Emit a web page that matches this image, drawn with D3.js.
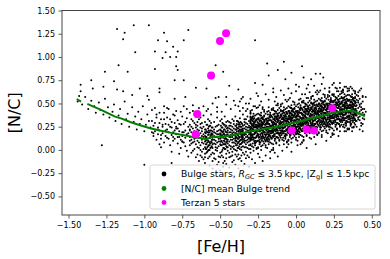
<!DOCTYPE html>
<html><head><meta charset="utf-8">
<script src="https://cdn.jsdelivr.net/npm/d3@7"></script>
<style>html,body{margin:0;padding:0;background:#fff}svg{display:block;font-family:"DejaVu Sans",sans-serif}</style>
</head><body><svg id="c" width="390" height="259"></svg>
<script>
// ---- data ----
const xTicks = [-1.5, -1.25, -1.0, -0.75, -0.5, -0.25, 0.0, 0.25, 0.5];
const yTicks = [-0.5, -0.25, 0.0, 0.25, 0.5, 0.75, 1.0, 1.25, 1.5];
const xLabel = "[Fe/H]";
const yLabel = "[N/C]";
const legendLabels = ["Bulge stars", "[N/C] mean Bulge trend", "Terzan 5 stars"];

const terzanFeH = [-0.461, -0.501, -0.560, -0.651, -0.661, 0.239, -0.028, 0.070, 0.119];
const terzanNC  = [1.255, 1.172, 0.800, 0.387, 0.169, 0.448, 0.208, 0.219, 0.208];

const trendFeH = [-1.446, -1.417, -1.40, -1.376, -1.336, -1.292, -1.248, -1.193, -1.149, -1.094, -1.028, -0.962, -0.897, -0.831, -0.765, -0.710, -0.677, -0.633, -0.589, -0.556, -0.523, -0.479, -0.435, -0.380, -0.292, -0.182, -0.117, -0.028, 0.059, 0.147, 0.235, 0.323, 0.367, 0.411, 0.455];
const trendNC  = [0.548, 0.519, null, 0.495, 0.466, 0.437, 0.401, 0.358, 0.337, 0.301, 0.265, 0.233, 0.208, 0.186, 0.165, 0.151, 0.137, 0.129, 0.115, 0.140, 0.143, 0.142, 0.155, 0.172, 0.205, 0.233, 0.251, 0.287, 0.323, 0.358, 0.394, 0.420, 0.423, 0.396, 0.362];

// Bulge stars: flat pairs of [Fe/H]*100, [N/C]*100 (read/estimated from the picture)
const bulgeStars = [
-118,130,-107,134,-97,134,-113,126,-114,119,-87,126,-91,118,-85,117,-74,118,-71,129,-81,111,-78,106,-93,106,-106,105,-83,100,-86,105,-117,91,-79,90,-78,86,-53,91,-48,84,-126,84,-111,84,-93,87,-135,75,-127,68,-134,66,-142,70,-120,74,-103,66,-80,75,-74,75,-90,66,-66,67,-59,66,-114,63,-118,65,-108,59,-98,58,-97,54,-90,62,-80,55,-73,57,-53,56,-142,63,-143,58,-128,5,-100,-16,-82,-14,-88,99,-79,100,-27,118,-19,93,-8,95,-12,86,4,90,-3,83,-18,80,-7,76,-27,72,-22,70,10,76,16,82,13,82,18,78,5,78,22,67,29,67,25,72,31,65,35,64,46,57,-38,65,-44,69,-46,57,-35,57,-51,57,-26,61,-15,66,0,70,8,70,
-144,52,-141,49,-139,57,-137,44,-135,53,-133,47,-132,40,-130,51,-129,43,-127,38,-126,55,-124,46,-123,35,-121,41,-120,49,-119,31,-117,37,-116,44,-115,28,-113,52,-112,33,-111,39,-110,25,-108,46,-107,30,-106,36,-105,22,-104,41,-103,28,-102,33,-101,47,-100,20,-99,27,-98,38,-97,31,-96,24,-95,43,-94,18,-93,29,-92,35,-91,22,-90,40,-89,16,-88,27,-87,33,-86,21,-85,45,-84,12,-83,25,-82,30,-81,19,-80,37,-79,23,-78,14,-77,28,-76,41,-75,9,
-95,31,-94,15,-94,26,-93,20,-92,38,-92,11,-91,24,-91,17,-90,29,-90,6,-93,45,-95,19,
-90,21,-89,33,-89,12,-88,25,-88,18,-87,40,-87,8,-86,28,-86,15,-85,22,-85,35,-89,3,-87,47,
-85,13,-84,27,-84,19,-83,5,-83,33,-82,16,-82,24,-81,38,-81,10,-80,21,-80,29,-84,44,-82,-2,-81,14,
-80,12,-79,25,-79,17,-78,32,-78,7,-77,20,-77,14,-76,27,-76,2,-75,19,-75,36,-79,42,-77,-4,-76,11,-78,23,-75,9,
-75,15,-74,28,-74,8,-73,21,-73,13,-72,34,-72,-1,-71,18,-71,25,-70,10,-70,40,-74,47,-73,4,-72,17,-71,-7,-70,22,-74,19,-73,30,
-70,14,-70,5,-70,27,-69,19,-69,-3,-69,33,-69,11,-68,23,-68,8,-68,16,-68,42,-67,1,-67,20,-67,29,-67,12,-66,-8,-66,24,-66,17,-66,6,-66,36,-65,14,-65,22,-65,3,-65,30,-69,25,-68,-1,-67,9,-66,13,-65,19,-65,-5,-70,21,-67,38,-68,31,-69,7,-66,27,
-65,10,-65,26,-64,16,-64,2,-64,21,-64,33,-64,8,-63,13,-63,-6,-63,24,-63,18,-63,5,-62,29,-62,11,-62,-2,-62,20,-62,15,-61,7,-61,25,-61,-10,-61,17,-61,37,-60,12,-60,3,-60,22,-60,-4,-60,30,-64,45,-63,0,-62,8,-61,14,-60,19,-64,-12,-63,28,-62,23,-61,1,-60,9,-65,17,-63,35,-62,-8,
-60,15,-59,6,-59,20,-59,-3,-59,27,-59,11,-58,16,-58,-9,-58,23,-58,4,-58,33,-57,13,-57,0,-57,19,-57,8,-57,26,-56,-5,-56,14,-56,21,-56,9,-56,38,-55,2,-55,17,-55,-12,-55,24,-55,11,-59,14,-58,10,-57,-7,-56,29,-55,6,-58,-1,-57,31,-59,42,-56,3,-55,20,-60,-8,-58,19,-57,5,-56,17,-55,-3,-59,1,
-55,13,-54,7,-54,22,-54,-4,-54,30,-54,15,-53,10,-53,-10,-53,25,-53,18,-53,3,-52,14,-52,-1,-52,20,-52,35,-52,8,-51,12,-51,-7,-51,27,-51,17,-51,4,-50,22,-50,9,-50,-3,-50,16,-50,31,-54,11,-53,0,-52,26,-51,-13,-50,6,-54,19,-53,14,-52,2,-51,21,-50,12,-54,-9,-52,41,-51,9,-53,6,-50,-8,-52,17,
-50,18,-49,10,-49,24,-49,-2,-49,15,-49,33,-48,6,-48,20,-48,-8,-48,13,-48,28,-47,16,-47,1,-47,22,-47,9,-47,-12,-46,19,-46,4,-46,26,-46,12,-46,-4,-45,15,-45,31,-45,7,-45,21,-45,-1,-49,5,-48,17,-47,27,-46,8,-45,11,-49,-6,-48,2,-47,36,-46,16,-45,24,-48,-14,-47,12,-46,30,-45,3,-49,20,-47,6,-46,-9,
-45,17,-44,9,-44,23,-44,-3,-44,14,-44,30,-44,5,-43,19,-43,11,-43,-7,-43,26,-43,16,-43,1,-42,21,-42,8,-42,-2,-42,14,-42,33,-42,25,-41,12,-41,4,-41,19,-41,-11,-41,28,-41,16,-40,7,-40,22,-40,0,-40,14,-40,36,-40,18,-44,19,-43,4,-42,11,-41,23,-40,10,-44,-8,-43,29,-42,-6,-41,8,-40,26,-43,14,-42,18,-41,1,-40,-5,-44,26,-43,22,-42,3,-41,31,-40,12,
-40,16,-39,9,-39,24,-39,-1,-39,17,-39,31,-39,5,-38,20,-38,12,-38,-5,-38,27,-38,15,-38,2,-37,22,-37,10,-37,-9,-37,18,-37,34,-37,6,-36,25,-36,14,-36,0,-36,20,-36,29,-36,11,-35,17,-35,4,-35,23,-35,-3,-35,13,-35,38,-39,13,-38,23,-37,14,-36,7,-35,19,-39,-7,-38,8,-37,27,-36,16,-35,9,-39,20,-38,30,-37,1,-36,-6,-35,26,-39,28,-38,18,-37,21,-36,3,-35,15,-38,-10,-37,42,-36,22,-35,11,
-35,21,-34,12,-34,27,-34,3,-34,18,-34,33,-34,8,-33,22,-33,14,-33,-2,-33,29,-33,17,-33,6,-32,24,-32,11,-32,-6,-32,19,-32,36,-32,15,-31,26,-31,9,-31,1,-31,21,-31,31,-31,13,-30,18,-30,5,-30,25,-30,-3,-30,14,-30,39,-34,16,-33,25,-32,2,-31,17,-30,10,-34,-5,-33,10,-32,28,-31,5,-30,22,-34,23,-33,33,-32,8,-31,-8,-30,29,-34,30,-33,19,-32,21,-31,24,-30,16,-33,-9,-32,44,-31,12,-30,1,-34,10,-33,3,-32,14,-31,19,-30,33,
-30,23,-29,16,-28,30,-27,10,-26,25,-30,35,-29,20,-28,13,-27,27,-26,38,-30,18,-29,32,-28,22,-27,7,-26,15,-30,29,-29,43,-28,3,-27,24,-26,33,-30,12,-29,26,-28,36,-27,19,-26,9,-30,40,-29,14,-28,28,-27,47,-26,21,-30,6,-29,34,-28,17,-27,31,-26,1,
-26,14,-27,25,-28,20,-29,35,-30,11,-26,27,-27,8,-28,39,-29,17,-30,30,-26,32,-27,18,-28,11,-29,23,-30,36,-26,2,-27,30,-28,24,-29,13,-30,19,-26,45,-27,5,-28,33,-29,28,-30,22,-26,20,-27,37,-28,-1,-29,11,-30,42,-26,24,-27,13,-28,26,-29,4,-30,31,
-25,15,-24,26,-23,21,-22,35,-21,13,-25,28,-24,9,-23,40,-22,18,-21,30,-25,33,-24,20,-23,12,-22,24,-21,37,-25,3,-24,31,-23,25,-22,15,-21,19,-25,46,-24,6,-23,34,-22,29,-21,23,-25,21,-24,38,-23,0,-22,12,-21,43,-25,25,-24,14,-23,27,-22,5,-21,32,
-21,24,-22,17,-23,31,-24,11,-25,26,-21,36,-22,21,-23,14,-24,28,-25,39,-21,19,-22,33,-23,23,-24,8,-25,16,-21,30,-22,44,-23,4,-24,25,-25,34,-21,13,-22,27,-23,37,-24,20,-25,10,-21,41,-22,15,-23,29,-24,48,-25,22,-21,7,-22,35,-23,18,-24,32,-25,2,
-20,22,-19,29,-18,15,-17,35,-16,20,-20,10,-19,25,-18,32,-17,18,-16,7,-20,27,-19,13,-18,23,-17,38,-16,30,-20,16,-19,2,-18,42,-17,21,-16,12,-20,33,-19,19,-18,9,-17,26,-16,36,-20,5,-19,31,-18,17,-17,-2,-16,24,-20,39,-19,11,-18,28,-17,14,-16,44,
-16,31,-17,20,-18,25,-19,11,-20,33,-16,18,-17,37,-18,6,-19,28,-20,16,-16,13,-17,26,-18,34,-19,22,-20,9,-16,43,-17,15,-18,21,-19,31,-20,28,-16,0,-17,40,-18,12,-19,17,-20,23,-16,25,-17,8,-18,46,-19,34,-20,3,-16,21,-17,32,-18,19,-19,41,-20,14,
-15,33,-14,22,-13,27,-12,13,-11,35,-15,20,-14,39,-13,8,-12,30,-11,18,-15,15,-14,28,-13,36,-12,24,-11,11,-15,45,-14,17,-13,23,-12,33,-11,29,-15,2,-14,42,-13,14,-12,19,-11,25,-15,27,-14,10,-13,48,-12,36,-11,5,-15,23,-14,34,-13,21,-12,43,-11,16,
-11,28,-12,21,-13,35,-14,15,-15,30,-11,40,-12,25,-13,18,-14,32,-15,43,-11,23,-12,37,-13,28,-14,12,-15,19,-11,34,-12,48,-13,7,-14,29,-15,38,-11,17,-12,31,-13,41,-14,24,-15,14,-11,45,-12,18,-13,33,-14,52,-15,26,-11,10,-12,39,-13,22,-14,36,-15,6,
-10,30,-9,23,-8,37,-7,17,-6,32,-10,42,-9,27,-8,20,-7,34,-6,45,-10,25,-9,39,-8,29,-7,14,-6,22,-10,36,-9,50,-8,10,-7,31,-6,40,-10,19,-9,33,-8,43,-7,26,-6,16,-10,47,-9,21,-8,35,-7,54,-6,28,-10,13,-9,41,-8,24,-7,38,-6,8,
-6,21,-7,32,-8,27,-9,42,-10,18,-6,34,-7,15,-8,46,-9,24,-10,37,-6,39,-7,25,-8,18,-9,30,-10,43,-6,9,-7,37,-8,31,-9,20,-10,26,-6,52,-7,12,-8,40,-9,35,-10,29,-6,27,-7,44,-8,6,-9,18,-10,49,-6,31,-7,20,-8,33,-9,11,-10,38,
-5,23,-4,34,-3,29,-2,43,-1,21,-5,36,-4,17,-3,48,-2,26,-1,38,-5,41,-4,28,-3,20,-2,32,-1,45,-5,11,-4,39,-3,33,-2,23,-1,27,-5,54,-4,14,-3,42,-2,37,-1,31,-5,29,-4,46,-3,8,-2,20,-1,51,-5,33,-4,22,-3,35,-2,13,-1,40,
-1,32,-2,25,-3,39,-4,19,-5,34,-1,44,-2,29,-3,22,-4,36,-5,47,-1,26,-2,41,-3,31,-4,16,-5,24,-1,37,-2,52,-3,12,-4,33,-5,42,-1,20,-2,35,-3,45,-4,27,-5,18,-1,49,-2,22,-3,37,-4,56,-5,30,-1,15,-2,44,-3,26,-4,40,-5,10,
0,30,1,37,2,23,3,43,4,28,0,18,1,33,2,40,3,26,4,15,0,35,1,21,2,31,3,46,4,38,0,24,1,10,2,50,3,29,4,20,0,41,1,27,2,17,3,34,4,44,0,13,1,39,2,25,3,6,4,32,0,47,1,19,2,36,3,22,4,52,
4,39,3,28,2,33,1,18,0,42,4,26,3,45,2,14,1,36,0,23,4,21,3,35,2,42,1,30,0,17,4,51,3,23,2,29,1,40,0,36,4,8,3,48,2,20,1,25,0,31,4,33,3,16,2,54,1,42,0,11,4,29,3,40,2,27,1,49,0,22,
5,41,6,30,7,35,8,21,9,43,5,28,6,47,7,16,8,38,9,26,5,23,6,36,7,44,8,32,9,19,5,53,6,25,7,31,8,41,9,37,5,10,6,50,7,22,8,27,9,33,5,35,6,18,7,56,8,44,9,13,5,31,6,42,7,29,8,51,9,24,
9,36,8,29,7,43,6,23,5,38,9,48,8,33,7,26,6,40,5,51,9,31,8,45,7,34,6,20,5,27,9,42,8,56,7,15,6,37,5,46,9,25,8,39,7,49,6,32,5,22,9,53,8,26,7,41,6,60,5,34,9,18,8,47,7,30,6,44,5,14,
10,38,11,31,12,45,13,25,14,40,10,50,11,35,12,28,13,42,14,53,10,33,11,47,12,37,13,22,14,30,10,44,11,58,12,18,13,39,14,48,10,27,11,41,12,51,13,34,14,24,10,55,11,29,12,43,13,62,14,36,10,21,11,49,12,32,13,46,14,16,
14,29,13,40,12,35,11,50,10,26,14,42,13,23,12,54,11,32,10,45,14,47,13,33,12,26,11,38,10,51,14,17,13,45,12,39,11,28,10,34,14,60,13,20,12,48,11,43,10,37,14,35,13,52,12,14,11,26,10,57,14,39,13,28,12,41,11,19,10,46,
15,31,16,42,17,37,18,51,19,29,15,44,16,25,17,56,18,34,19,46,15,49,16,36,17,28,18,40,19,53,15,19,16,47,17,41,18,31,19,35,15,62,16,22,17,50,18,45,19,39,15,37,16,54,17,16,18,28,19,59,15,41,16,30,17,43,18,21,19,48,
19,40,18,33,17,47,16,27,15,42,19,52,18,37,17,30,16,44,15,55,19,34,18,49,17,39,16,24,15,32,19,47,18,60,17,20,16,41,15,50,19,28,18,43,17,53,16,35,15,26,19,57,18,32,17,45,16,64,15,38,19,23,18,52,17,34,16,48,15,18,
20,38,21,45,22,31,23,51,24,36,20,26,21,41,22,48,23,34,24,23,20,43,21,29,22,39,23,54,24,46,20,32,21,18,22,58,23,37,24,28,20,49,21,35,22,25,23,42,24,52,20,21,21,47,22,33,23,14,24,40,20,55,21,27,22,44,23,30,24,60,
24,47,23,36,22,41,21,26,20,50,24,34,23,53,22,22,21,44,20,31,24,29,23,43,22,50,21,38,20,25,24,59,23,31,22,37,21,48,20,44,24,16,23,56,22,28,21,33,20,39,24,41,23,24,22,62,21,50,20,19,24,37,23,48,22,35,21,57,20,30,
25,48,26,37,27,42,28,28,29,50,25,35,26,54,27,23,28,45,29,33,25,30,26,43,27,51,28,39,29,26,25,60,26,32,27,38,28,48,29,44,25,17,26,57,27,29,28,34,29,40,25,42,26,25,27,63,28,51,29,20,25,38,26,49,27,36,28,58,29,31,
29,43,28,36,27,50,26,30,25,45,29,55,28,40,27,33,26,47,25,58,29,38,28,52,27,41,26,27,25,34,29,49,28,63,27,22,26,44,25,53,29,32,28,46,27,56,26,39,25,29,29,60,28,33,27,48,26,67,25,41,29,25,28,54,27,37,26,51,25,21,
30,44,31,37,32,51,33,31,34,46,30,56,31,41,32,34,33,48,34,59,30,39,31,53,32,43,33,28,34,36,30,50,31,64,32,24,33,45,34,54,30,33,31,47,32,57,33,40,34,30,30,61,31,35,32,49,33,68,34,42,30,27,31,55,32,38,33,52,34,22,
34,35,33,46,32,41,31,56,30,32,34,48,33,29,32,60,31,38,30,51,34,53,33,39,32,32,31,44,30,57,34,23,33,51,32,45,31,34,30,40,34,66,33,26,32,54,31,49,30,43,34,41,33,58,32,20,31,32,30,63,34,45,33,34,32,47,31,25,30,52,
35,35,36,46,37,41,38,55,39,33,35,48,36,29,37,60,38,38,39,50,35,53,36,40,37,32,38,44,39,57,35,23,36,51,37,45,38,35,39,39,35,66,36,26,37,54,38,49,39,43,35,41,36,58,37,20,38,32,39,63,35,45,36,34,37,47,38,25,39,52,
39,44,38,37,37,51,36,31,35,46,39,56,38,41,37,34,36,48,35,59,39,38,38,53,37,43,36,28,35,36,39,51,38,64,37,24,36,45,35,54,39,32,38,47,37,57,36,39,35,30,39,61,38,36,37,49,36,68,35,42,39,27,38,56,37,38,36,52,35,22,
40,42,41,35,42,49,43,29,44,44,40,54,41,39,42,32,43,46,44,57,40,37,41,51,42,41,43,26,44,34,40,48,41,62,42,22,43,43,44,52,40,31,41,45,42,55,43,38,44,28,40,59,41,33,42,47,43,66,44,40,40,25,41,53,42,36,43,50,44,20,45,38,45,44,46,41,45,33,
-60,-14,-57,-17,-55,-20,-52,-16,-50,-22,-48,-18,-46,-15,-44,-19,-42,-13,-40,-16,-38,-20,-36,-12,-34,-15,-31,-18,-29,-10,-27,-14,-24,-8,-22,-12,-20,-6,-17,-9,-14,-3,-12,-7,-9,-1,-6,3,-3,-2,1,5,4,8,7,2,10,12,13,6,17,14,20,10,24,18,28,15,33,20,38,24,-25,-4,-15,0,-5,6,5,11,
-40,48,-37,52,-33,50,-30,55,-28,47,-25,58,-23,52,-20,60,-18,54,-15,62,-13,57,-10,64,-8,59,-5,66,-3,61,0,63,2,68,4,60,7,66,9,62,12,69,14,64,17,71,19,66,22,63,24,70,27,66,29,72,32,68,34,63,37,66,39,61,42,64,44,58,-35,45,-22,46,-12,50,3,55,11,58,21,59,31,62,41,58,
-72,44,-68,48,-64,39,-61,47,-58,44,-55,50,-52,46,-49,41,-46,49,-43,44,-41,53,-38,47,-36,55,-33,42,-31,50,
-59.5,10,-58.5,19,-57.5,5,-56.5,15,-55.5,8,-59.5,22,-58.5,3,-57.5,17,-56.5,7,-55.5,24,-59.5,1,-58.5,12,-57.5,21,-56.5,26,-55.5,4,-59.5,14,-58.5,27,-57.5,9,-56.5,2,-55.5,18,-59.5,6,-58.5,-2,-57.5,25,-56.5,13,-55.5,11,-59.5,18,-58.5,8,-57.5,0,-56.5,21,-55.5,16,
-49.5,17,-48.5,8,-47.5,22,-46.5,12,-45.5,19,-49.5,5,-48.5,24,-47.5,10,-46.5,20,-45.5,3,-49.5,26,-48.5,15,-47.5,6,-46.5,1,-45.5,23,-49.5,13,-48.5,0,-47.5,18,-46.5,25,-45.5,9,-49.5,21,-48.5,29,-47.5,2,-46.5,14,-45.5,16,-49.5,9,-48.5,19,-47.5,27,-46.5,6,-45.5,11,
-39.5,14,-38.5,23,-37.5,9,-36.5,19,-35.5,12,-39.5,26,-38.5,7,-37.5,21,-36.5,11,-35.5,28,-39.5,5,-38.5,16,-37.5,25,-36.5,30,-35.5,8,-39.5,18,-38.5,31,-37.5,13,-36.5,6,-35.5,22,-39.5,10,-38.5,2,-37.5,29,-36.5,17,-35.5,15,-39.5,22,-38.5,12,-37.5,4,-36.5,25,-35.5,20,
-29.5,24,-28.5,15,-27.5,29,-26.5,19,-25.5,26,-29.5,12,-28.5,31,-27.5,17,-26.5,27,-25.5,10,-29.5,33,-28.5,22,-27.5,13,-26.5,8,-25.5,30,-29.5,20,-28.5,7,-27.5,25,-26.5,32,-25.5,16,-29.5,28,-28.5,36,-27.5,9,-26.5,21,-25.5,23,-29.5,16,-28.5,26,-27.5,34,-26.5,13,-25.5,18,
-24.5,25,-23.5,16,-22.5,30,-21.5,20,-20.5,27,-24.5,13,-23.5,32,-22.5,18,-21.5,28,-20.5,11,-24.5,34,-23.5,23,-22.5,14,-21.5,9,-20.5,31,-24.5,21,-23.5,8,-22.5,26,-21.5,33,-20.5,17,-24.5,29,-23.5,37,-22.5,10,-21.5,22,-20.5,24,-24.5,17,-23.5,27,-22.5,35,-21.5,14,-20.5,19,
-19.5,21,-18.5,30,-17.5,16,-16.5,26,-15.5,19,-19.5,33,-18.5,14,-17.5,28,-16.5,18,-15.5,35,-19.5,12,-18.5,23,-17.5,32,-16.5,37,-15.5,15,-19.5,25,-18.5,38,-17.5,20,-16.5,13,-15.5,29,-19.5,17,-18.5,9,-17.5,36,-16.5,24,-15.5,22,-19.5,29,-18.5,19,-17.5,11,-16.5,32,-15.5,27,
-14.5,29,-13.5,20,-12.5,34,-11.5,24,-10.5,31,-14.5,17,-13.5,36,-12.5,22,-11.5,32,-10.5,15,-14.5,38,-13.5,27,-12.5,18,-11.5,13,-10.5,35,-14.5,25,-13.5,12,-12.5,30,-11.5,37,-10.5,21,-14.5,33,-13.5,41,-12.5,14,-11.5,26,-10.5,28,-14.5,21,-13.5,31,-12.5,39,-11.5,18,-10.5,23,
-9.5,25,-8.5,34,-7.5,20,-6.5,30,-5.5,23,-9.5,37,-8.5,18,-7.5,32,-6.5,22,-5.5,39,-9.5,16,-8.5,27,-7.5,36,-6.5,41,-5.5,19,-9.5,29,-8.5,42,-7.5,24,-6.5,17,-5.5,33,-9.5,21,-8.5,13,-7.5,40,-6.5,28,-5.5,26,-9.5,33,-8.5,23,-7.5,15,-6.5,36,-5.5,31,
-4.5,33,-3.5,24,-2.5,38,-1.5,28,-0.5,35,-4.5,21,-3.5,40,-2.5,26,-1.5,36,-0.5,19,-4.5,42,-3.5,31,-2.5,22,-1.5,17,-0.5,39,-4.5,29,-3.5,16,-2.5,34,-1.5,41,-0.5,25,-4.5,37,-3.5,45,-2.5,18,-1.5,30,-0.5,32,-4.5,25,-3.5,35,-2.5,43,-1.5,22,-0.5,27,
0.5,29,1.5,38,2.5,24,3.5,34,4.5,27,0.5,41,1.5,22,2.5,36,3.5,26,4.5,43,0.5,20,1.5,31,2.5,40,3.5,45,4.5,23,0.5,33,1.5,46,2.5,28,3.5,21,4.5,37,0.5,25,1.5,17,2.5,44,3.5,32,4.5,30,0.5,37,1.5,27,2.5,19,3.5,40,4.5,35,
5.5,37,6.5,28,7.5,42,8.5,32,9.5,39,5.5,25,6.5,44,7.5,30,8.5,40,9.5,23,5.5,46,6.5,35,7.5,26,8.5,21,9.5,43,5.5,33,6.5,20,7.5,38,8.5,45,9.5,29,5.5,41,6.5,49,7.5,22,8.5,34,9.5,36,5.5,29,6.5,39,7.5,47,8.5,26,9.5,31,
10.5,33,11.5,42,12.5,28,13.5,38,14.5,31,10.5,45,11.5,26,12.5,40,13.5,30,14.5,47,10.5,24,11.5,35,12.5,44,13.5,49,14.5,27,10.5,37,11.5,50,12.5,32,13.5,25,14.5,41,10.5,29,11.5,21,12.5,48,13.5,36,14.5,34,10.5,41,11.5,31,12.5,23,13.5,44,14.5,39,
15.5,41,16.5,32,17.5,46,18.5,36,19.5,43,15.5,29,16.5,48,17.5,34,18.5,44,19.5,27,15.5,50,16.5,39,17.5,30,18.5,25,19.5,47,15.5,37,16.5,24,17.5,42,18.5,49,19.5,33,15.5,45,16.5,53,17.5,26,18.5,38,19.5,40,15.5,33,16.5,43,17.5,51,18.5,30,19.5,35,
20.5,37,21.5,46,22.5,32,23.5,42,24.5,35,20.5,49,21.5,30,22.5,44,23.5,34,24.5,51,20.5,28,21.5,39,22.5,48,23.5,53,24.5,31,20.5,41,21.5,54,22.5,36,23.5,29,24.5,45,20.5,33,21.5,25,22.5,52,23.5,40,24.5,38,20.5,45,21.5,35,22.5,27,23.5,48,24.5,43,
25.5,44,26.5,35,27.5,49,28.5,39,29.5,46,25.5,32,26.5,51,27.5,37,28.5,47,29.5,30,25.5,53,26.5,42,27.5,33,28.5,28,29.5,50,25.5,40,26.5,27,27.5,45,28.5,52,29.5,36,25.5,48,26.5,56,27.5,29,28.5,41,29.5,43,25.5,36,26.5,46,27.5,54,28.5,33,29.5,38,
30.5,39,31.5,48,32.5,34,33.5,44,34.5,37,30.5,51,31.5,32,32.5,46,33.5,36,34.5,53,30.5,30,31.5,41,32.5,50,33.5,55,34.5,33,30.5,43,31.5,56,32.5,38,33.5,31,34.5,47,30.5,35,31.5,27,32.5,54,33.5,42,34.5,40,30.5,47,31.5,37,32.5,29,33.5,50,34.5,45,
35.5,45,36.5,36,37.5,50,38.5,40,39.5,47,35.5,33,36.5,52,37.5,38,38.5,48,39.5,31,35.5,54,36.5,43,37.5,34,38.5,29,39.5,51,35.5,41,36.5,28,37.5,46,38.5,53,39.5,37,35.5,49,36.5,57,37.5,30,38.5,42,39.5,44,35.5,37,36.5,47,37.5,55,38.5,34,39.5,39
];

// ---- layout ----
const pLeft = 62, pRight = 380, pTop = 10.5, pBottom = 215;
const svg = d3.select("#c");
const x = d3.scaleLinear().domain([-1.543, 0.554]).range([pLeft, pRight]);
const y = d3.scaleLinear().domain([-0.7, 1.5]).range([pBottom, pTop]);
const fmt = d3.format(".2f");

svg.append("defs").append("clipPath").attr("id", "clip")
  .append("rect").attr("x", pLeft).attr("y", pTop).attr("width", pRight - pLeft).attr("height", pBottom - pTop);

const stars = [];
for (let i = 0; i < bulgeStars.length; i += 2) stars.push([bulgeStars[i] / 100, bulgeStars[i + 1] / 100]);

const plot = svg.append("g").attr("clip-path", "url(#clip)");
plot.append("g").selectAll("circle").data(stars).join("circle")
  .attr("cx", d => x(d[0])).attr("cy", d => y(d[1])).attr("r", 1.0).attr("fill", "#000");

const trend = trendFeH.map((f, i) => [f, trendNC[i]]);
plot.append("path").datum(trend)
  .attr("d", d3.line().defined(d => d[1] != null).x(d => x(d[0])).y(d => y(d[1])))
  .attr("fill", "none").attr("stroke", "#008000").attr("stroke-width", 2);

const terzan = terzanFeH.map((f, i) => [f, terzanNC[i]]);
plot.append("g").selectAll("circle").data(terzan).join("circle")
  .attr("cx", d => x(d[0])).attr("cy", d => y(d[1])).attr("r", 4).attr("fill", "#ff00ff");

// axes
const xa = svg.append("g").attr("transform", `translate(0,${pBottom})`)
  .call(d3.axisBottom(x).tickValues(xTicks).tickSize(3.5).tickPadding(3.5).tickFormat(fmt));
const ya = svg.append("g").attr("transform", `translate(${pLeft},0)`)
  .call(d3.axisLeft(y).tickValues(yTicks).tickSize(3.5).tickPadding(3.5).tickFormat(fmt));
[xa, ya].forEach(a => {
  a.select(".domain").remove();
  a.selectAll("line").attr("stroke", "#333").attr("stroke-width", 0.8);
  a.selectAll("text").attr("font-family", "DejaVu Sans").attr("font-size", 8).attr("fill", "#000");
});

svg.append("rect").attr("x", pLeft).attr("y", pTop).attr("width", pRight - pLeft).attr("height", pBottom - pTop)
  .attr("fill", "none").attr("stroke", "#333").attr("stroke-width", 0.9);

svg.append("text").attr("x", (pLeft + pRight) / 2).attr("y", 252).attr("text-anchor", "middle")
  .attr("font-size", 16).attr("fill", "#000").text(xLabel);
svg.append("text").attr("transform", `translate(20,${(pTop + pBottom) / 2}) rotate(-90)`).attr("text-anchor", "middle")
  .attr("font-size", 16).attr("fill", "#000").text(yLabel);

// legend
const lg = svg.append("g");
lg.append("rect").attr("x", 150).attr("y", 165).attr("width", 225).attr("height", 44).attr("rx", 2)
  .attr("fill", "#fff").attr("fill-opacity", 0.8).attr("stroke", "#ccc").attr("stroke-width", 0.8);
const legendColors = ["#000", "#008000", "#ff00ff"];
const rowY = [174, 188.5, 202.5];
legendColors.forEach((c, i) => {
  lg.append("circle").attr("cx", 164).attr("cy", rowY[i]).attr("r", 2.4).attr("fill", c);
});
const fs = 9.2;
const t0 = lg.append("text").attr("x", 181).attr("y", rowY[0] + 3.3).attr("font-size", fs).attr("fill", "#000");
t0.append("tspan").text(legendLabels[0] + ", ");
t0.append("tspan").attr("font-style", "italic").text("R");
t0.append("tspan").attr("font-style", "italic").attr("font-size", 6.5).attr("dy", 1.8).text("GC");
t0.append("tspan").attr("dy", -1.8).text(" ≤ 3.5\u2009kpc, |Z");
t0.append("tspan").attr("font-size", 6.5).attr("dy", 1.8).text("g");
t0.append("tspan").attr("dy", -1.8).text("| ≤ 1.5\u2009kpc");
[1, 2].forEach(i => {
  lg.append("text").attr("x", 181).attr("y", rowY[i] + 3.3).attr("font-size", fs).attr("fill", "#000").text(legendLabels[i]);
});
</script></body></html>
